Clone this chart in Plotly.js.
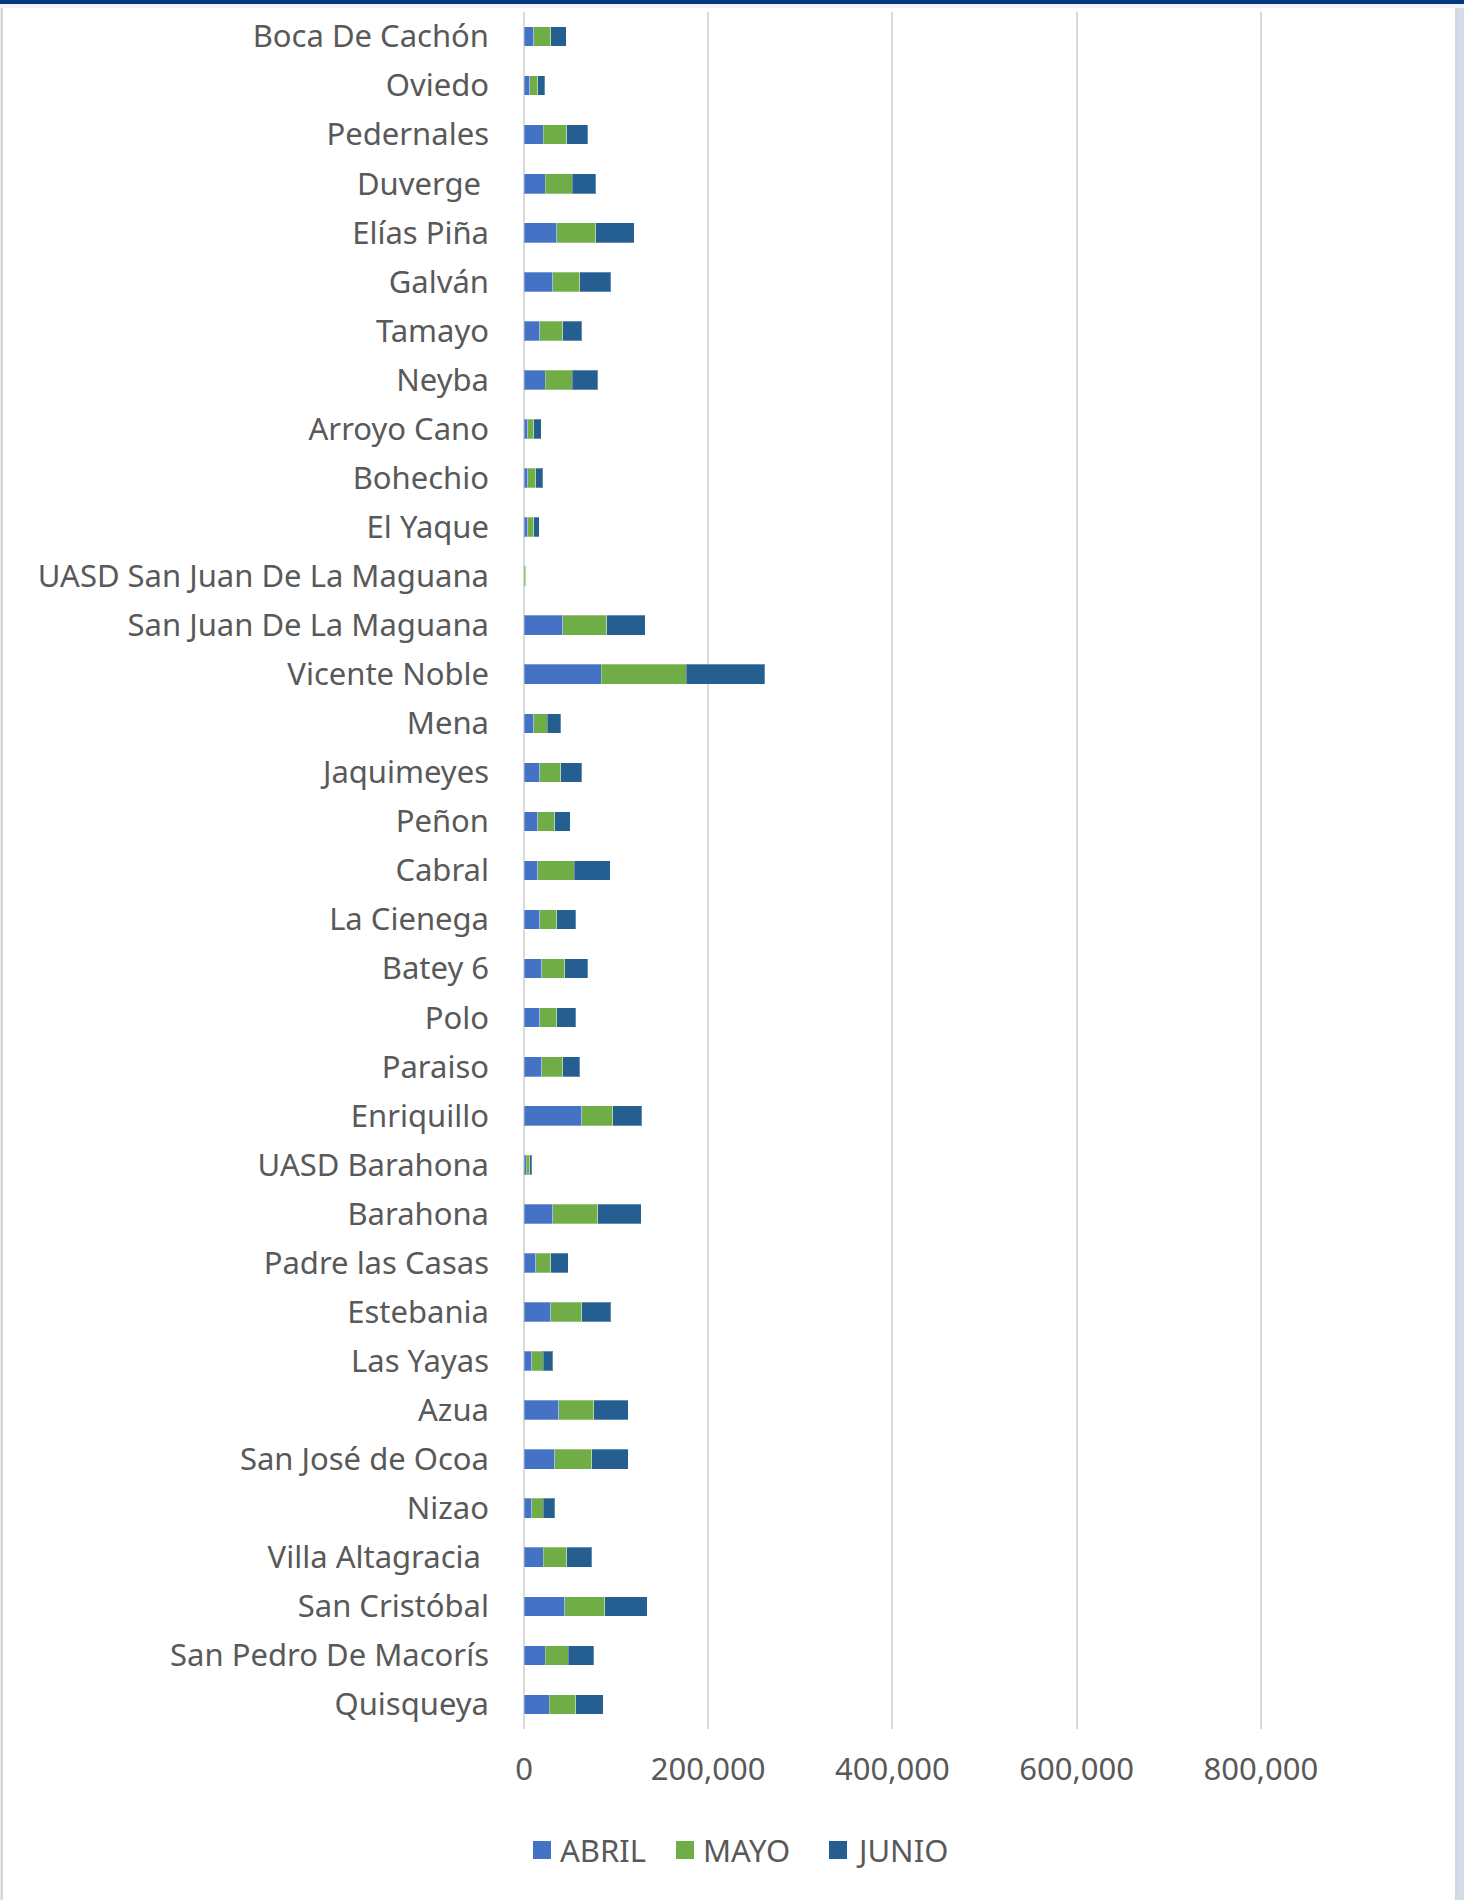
<!DOCTYPE html>
<html>
<head>
<meta charset="utf-8">
<script src="https://cdn.plot.ly/plotly-3.0.1.min.js"></script>
<style>
  html, body { margin: 0; padding: 0; background: #ffffff; }
  #chart { width: 1464px; height: 1900px; }
</style>
</head>
<body>
<div id="chart"></div>
<script>
// Categories, top to bottom as drawn
const categories = [
  "Boca De Cachón", "Oviedo", "Pedernales", "Duverge ", "Elías Piña", "Galván",
  "Tamayo", "Neyba", "Arroyo Cano", "Bohechio", "El Yaque",
  "UASD San Juan De La Maguana", "San Juan De La Maguana", "Vicente Noble",
  "Mena", "Jaquimeyes", "Peñon", "Cabral", "La Cienega", "Batey 6", "Polo",
  "Paraiso", "Enriquillo", "UASD Barahona", "Barahona", "Padre las Casas",
  "Estebania", "Las Yayas", "Azua", "San José de Ocoa", "Nizao",
  "Villa Altagracia ", "San Cristóbal", "San Pedro De Macorís", "Quisqueya"
];

const abril = [
  10500, 6100, 21000, 23100, 35800, 31400,
  17000, 23100, 4300, 4300, 4300,
  300, 41900, 83800,
  10800, 17000, 14800, 14800, 17000, 19200, 17000,
  19200, 62900, 2500, 31400, 12600,
  29300, 8300, 37600, 33600, 8300,
  21000, 44100, 23100, 27500
];

const mayo = [
  18800, 8700, 25300, 29300, 41900, 29300,
  24900, 29300, 6500, 8300, 6100,
  1800, 48100, 92100,
  14500, 23100, 18400, 39700, 18800, 24900, 18800,
  22800, 33600, 3600, 48400, 16600,
  33600, 12600, 37900, 39700, 12600,
  25300, 43700, 24900, 28900
];

const junio = [
  16600, 7900, 22800, 25300, 41900, 33600,
  20600, 27500, 7900, 7900, 6100,
  200, 41500, 85600,
  14500, 22400, 17000, 39400, 20600, 24900, 20600,
  18400, 31100, 2200, 47700, 18800,
  31100, 10100, 37600, 39700, 12300,
  27100, 46200, 27500, 29600
];

const xTickVals = [0, 200000, 400000, 600000, 800000, 1000000];
const xTickText = ["0", "200,000", "400,000", "600,000", "800,000", ""];

const seriesNames = ["ABRIL", "MAYO", "JUNIO"];
const seriesColors = ["#4472C4", "#70AD47", "#255E91"];
const seriesData = [abril, mayo, junio];

const textColor = "#595959";
const fontFamily = "'Noto Sans', 'Open Sans', sans-serif";
const fontSize = 31;

// Page geometry (pixels)
const W = 1464, H = 1900;
const M = { l: 524, r: 19, t: 12, b: 171 };
const plotW = W - M.l - M.r;
const plotH = H - M.t - M.b;
const px2x = (px) => (px - M.l) / plotW;
const py2y = (py) => (H - M.b - py) / plotH;

const traces = seriesData.map((vals, i) => ({
  type: "bar",
  orientation: "h",
  name: seriesNames[i],
  y: categories,
  x: vals,
  marker: {
    color: seriesColors[i],
    line: { color: "rgba(255,255,255,0.3)", width: 1 }
  },
  hoverinfo: "x+y+name"
}));

// Custom legend (squares + labels), placed like the original
const legendSquareLeft = [533, 676, 829];
const legendY = 1850;
const sq = 18;
const legendShapes = seriesNames.map((n, i) => ({
  type: "rect", xref: "paper", yref: "paper",
  x0: px2x(legendSquareLeft[i]), x1: px2x(legendSquareLeft[i] + sq),
  y0: py2y(legendY + sq / 2), y1: py2y(legendY - sq / 2),
  fillcolor: seriesColors[i], line: { width: 0 }
}));
const legendAnnotations = seriesNames.map((n, i) => ({
  xref: "paper", yref: "paper",
  x: px2x(legendSquareLeft[i] + sq + 7), y: py2y(legendY),
  xanchor: "left", yanchor: "middle",
  text: n, showarrow: false,
  font: { family: fontFamily, color: textColor, size: fontSize }
}));

const layout = {
  width: W,
  height: H,
  paper_bgcolor: "#ffffff",
  plot_bgcolor: "#ffffff",
  barmode: "stack",
  bargap: 0.6,
  margin: { l: M.l, r: M.r, t: M.t, b: M.b, pad: 0 },
  font: { family: fontFamily, color: textColor, size: fontSize },
  showlegend: false,
  xaxis: {
    range: [0, 1000000],
    tickvals: xTickVals,
    ticktext: xTickText,
    showgrid: true,
    gridcolor: "#D9D9D9",
    gridwidth: 2,
    zeroline: true,
    zerolinecolor: "#D9D9D9",
    zerolinewidth: 2,
    showline: false,
    ticks: "",
    ticklabelstandoff: 19,
    tickfont: { family: fontFamily, color: textColor, size: fontSize },
    fixedrange: true
  },
  yaxis: {
    type: "category",
    autorange: "reversed",
    showgrid: false,
    zeroline: false,
    showline: false,
    ticks: "",
    ticklabelstandoff: 34,
    tickfont: { family: fontFamily, color: textColor, size: fontSize },
    fixedrange: true
  },
  shapes: legendShapes,
  annotations: legendAnnotations
};

Plotly.newPlot("chart", traces, layout, { displayModeBar: false, staticPlot: true }).then(() => {
  // Frame decorations (top band and side borders)
  const svg = document.querySelector("#chart .main-svg");
  const ns = "http://www.w3.org/2000/svg";
  const g = document.createElementNS(ns, "g");
  const add = (tag, attrs) => {
    const el = document.createElementNS(ns, tag);
    for (const k in attrs) el.setAttribute(k, attrs[k]);
    g.appendChild(el);
  };
  add("rect", { x: 0, y: 0, width: W, height: 4, fill: "#003A7D" });
  add("rect", { x: 0, y: 4, width: W, height: 4, fill: "#F2F3F8" });
  add("rect", { x: 0, y: 8, width: 1, height: H - 8, fill: "#E3E8F3" });
  add("rect", { x: 1, y: 8, width: 2, height: H - 8, fill: "#D6D6D6" });
  add("rect", { x: 1455, y: 8, width: 2, height: H - 8, fill: "#D6D6D6" });
  add("rect", { x: 1457, y: 8, width: 7, height: H - 8, fill: "#D5DBEA" });
  svg.appendChild(g);
});
</script>
</body>
</html>
